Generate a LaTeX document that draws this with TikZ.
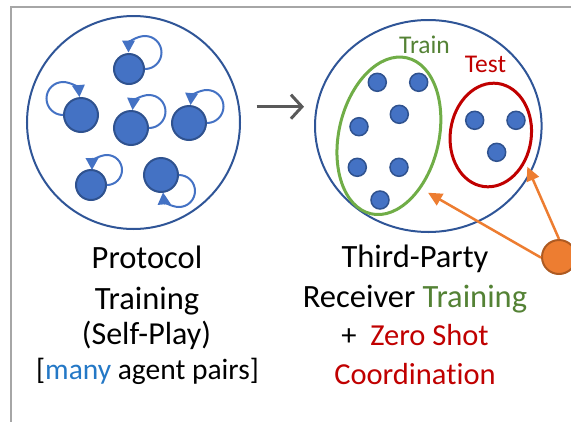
\documentclass[tikz,border=0pt]{standalone}
\usepackage{fontspec}
\setmainfont{Carlito}[Ligatures={NoCommon}]
\usetikzlibrary{arrows.meta,shapes.geometric}
\definecolor{agent}{HTML}{4472C4}
\definecolor{agentdk}{HTML}{2F528F}
\definecolor{ring}{HTML}{2F5597}
\definecolor{grn}{HTML}{70AD47}
\definecolor{grntxt}{HTML}{548235}
\definecolor{rd}{HTML}{C00000}
\definecolor{org}{HTML}{ED7D31}
\definecolor{orgdk}{HTML}{AE5A21}
\definecolor{manyc}{HTML}{2478C6}
\definecolor{arrgray}{HTML}{595959}
\definecolor{framec}{HTML}{A6A6A6}
\begin{document}
\begin{tikzpicture}[x=1pt,y=1pt,
  bigring/.style={circle, draw=ring, line width=2pt, inner sep=0pt, minimum size=213pt},
  bigell/.style={ellipse, draw=ring, line width=2pt, inner sep=0pt, minimum width=226.6pt, minimum height=212pt},
  agentbig/.style={circle, fill=agent, draw=agentdk, line width=2pt, inner sep=0pt, minimum size=34pt},
  agentsm/.style={circle, fill=agent, draw=agentdk, line width=2pt, inner sep=0pt, minimum size=30pt},
  dot/.style={circle, fill=agent, draw=agentdk, line width=1.5pt, inner sep=0pt, minimum size=18pt},
  loopst/.style={draw=agent, line width=2pt, -{Triangle[length=12pt,width=12.5pt]}},
  grpgreen/.style={draw=grn, line width=3pt},
  grpred/.style={draw=rd, line width=3pt},
  orgarrow/.style={draw=org, line width=2.5pt, -{Triangle[length=14pt,width=13pt]}},
  title/.style={anchor=base, inner sep=0pt, font=\fontsize{32.5}{39}\selectfont},
  sub/.style={anchor=base, inner sep=0pt, font=\fontsize{30.5}{37}\selectfont},
  lbl/.style={anchor=base, inner sep=0pt, font=\fontsize{25.5}{30}\selectfont},
  frame/.style={draw=framec, line width=2pt}
]
\useasboundingbox (0,0) rectangle (571,-421);
% frame
\coordinate (f1) at (11,-422);
\coordinate (f2) at (11,-7);
\coordinate (f3) at (572,-7);
\draw[frame] (f1) -- (f2) -- (f3);

% left population
\node[bigring] (L) at (133.5,-122.5) {};
\node[agentsm]  (a1) at (129,-69) {};
\node[agentbig] (a2) at (81,-115) {};
\node[agentbig] (a3) at (131,-128) {};
\node[agentbig] (a4) at (189,-123) {};
\node[agentsm]  (a5) at (91,-185) {};
\node[agentbig] (a6) at (161,-175) {};
\draw[loopst] (a1.east) arc[start angle=-90, end angle=180, radius=16.5];
\draw[loopst] (a2.west) arc[start angle=-90, end angle=-355, radius=16.5];
\draw[loopst] (a3.east) arc[start angle=-90, end angle=175, radius=16.5];
\draw[loopst] (a4.east) arc[start angle=-90, end angle=175, radius=16.5];
\draw[loopst] (a5.east) arc[start angle=-90, end angle=180, radius=15];
\draw[loopst] (a6.east) arc[start angle=90, end angle=-175, radius=16];

% middle arrow
\coordinate (m1) at (256.5,-106.7);
\coordinate (m2) at (304,-106.7);
\draw[draw=arrgray, line width=3pt, -{Straight Barb[length=11pt,width=24pt]}] (m1) -- (m2);

% right population
\node[bigell] (R) at (428.3,-126) {};
\draw[grpgreen, rotate around={-13:(388.9,-135.8)}] (388.9,-135.8) ellipse[x radius=50, y radius=80];
\draw[grpred, rotate around={-8:(490.8,-135)}] (490.8,-135) ellipse[x radius=40.5, y radius=52];
\node[dot] (d1) at (377.3,-82.3) {};
\node[dot] (d2) at (418.7,-82.3) {};
\node[dot] (d3) at (399.3,-114.3) {};
\node[dot] (d4) at (359,-126.7) {};
\node[dot] (d5) at (357.3,-167.3) {};
\node[dot] (d6) at (399,-167.3) {};
\node[dot] (d7) at (380,-200) {};
\node[dot] (e1) at (474.7,-120.3) {};
\node[dot] (e2) at (516,-120.3) {};
\node[dot] (e3) at (496.7,-152.3) {};
\node[lbl, text=grntxt] (trn) at (424.5,-53) {Train};
\node[lbl, text=rd] (tst) at (485.5,-72.7) {Test};

% orange agent
\node[circle, fill=org, draw=orgdk, line width=2pt, inner sep=0pt, minimum size=34pt] (o) at (559,-257) {};
\coordinate (t1) at (428,-192.7);
\coordinate (t2) at (527.3,-166.7);
\draw[orgarrow] (o.182) -- (t1);
\draw[orgarrow] (o.north) -- (t2);

% texts left
\node[title] (p1) at (147,-268) {Protocol};
\node[title] (p2) at (147,-309) {Training};
\node[sub, font=\fontsize{32}{38}\selectfont] (p3) at (146.5,-344.5) {(Self-Play)};
\node[sub, font=\fontsize{29.5}{36}\selectfont] (p4) at (147.5,-379.5) {[\textcolor{manyc}{many} agent pairs]};
% texts right
\node[title] (q1) at (415,-267) {Third-Party};
\node[title] (q2) at (415,-307) {Receiver \textcolor{grntxt}{Training}};
\node[sub] (q3) at (415,-345) {+\ \ \textcolor{rd}{Zero Shot}};
\node[sub] (q4) at (415,-384) {\textcolor{rd}{Coordination}};
\end{tikzpicture}
\end{document}
